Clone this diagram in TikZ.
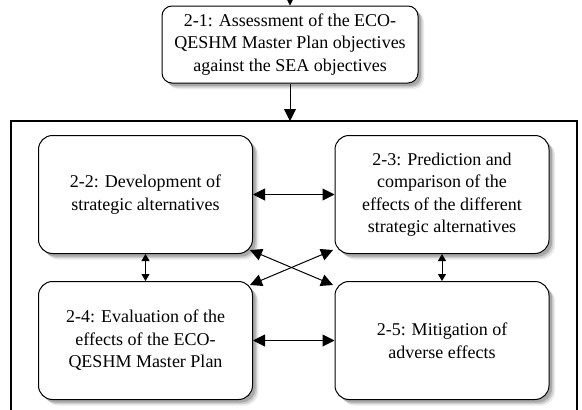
\documentclass[tikz,border=0pt]{standalone}
\usepackage{fontspec}
\setmainfont{Liberation Serif}
\usetikzlibrary{arrows.meta}
\usetikzlibrary{shadows}

\begin{document}
\begin{tikzpicture}[x=1pt,y=-1pt,line width=1pt,>={Triangle[length=12pt,width=12pt]},
    soft shadow/.style={drop shadow={shadow xshift=6pt,shadow yshift=-6pt,fill=black,opacity=0.08},
      drop shadow={shadow xshift=4.5pt,shadow yshift=-4.5pt,fill=black,opacity=0.12},
      drop shadow={shadow xshift=3pt,shadow yshift=-3pt,fill=black,opacity=0.18}},
    task node/.style={draw,fill=white,rounded corners=14pt,align=center,inner sep=0pt,
      minimum width=214pt,minimum height=118pt,font=\fontsize{18}{22.5}\selectfont,soft shadow},
    top node/.style={task node,rounded corners=10pt,minimum width=256pt,minimum height=77pt},
    small tip/.style={{Triangle[length=7pt,width=8pt]}-{Triangle[length=7pt,width=8pt]}}]
  \useasboundingbox (0,0) rectangle (582,410);
  % outer frame, open at the bottom
  \draw[line width=1.2pt] (11,415) |- (577,121) -- (577,415);
  \node[top node] (b21) at (290,44.5) {2-1: Assessment of the ECO-\\QESHM Master Plan objectives\\against the SEA objectives};
  \node[task node] (b22) at (145.5,194.5) {2-2: Development of\\strategic alternatives};
  \node[task node] (b23) at (442,194.5) {2-3: Prediction and\\comparison of the\\effects of the different\\strategic alternatives};
  \node[task node] (b24) at (145.5,340.5) {2-4: Evaluation of the\\effects of the ECO-\\QESHM Master Plan};
  \node[task node] (b25) at (442,340.5) {2-5: Mitigation of\\adverse effects};
  \coordinate (in) at (b21.north |- 0,0);
  \coordinate (ft) at (b21.south |- 0,121);
  \coordinate (d22) at (250,250);
  \coordinate (d23) at (333,250);
  \coordinate (d24) at (250,285);
  \coordinate (d25) at (333,285);
  \draw[->] (in) -- (b21);
  \draw[->] (b21) -- (ft);
  \draw[<->] (b22) -- (b23);
  \draw[<->] (b24) -- (b25);
  \draw[small tip] (b22) -- (b24);
  \draw[small tip] (b23) -- (b25);
  \draw[<->] (d22) -- (d25);
  \draw[<->] (d23) -- (d24);
\end{tikzpicture}
\end{document}
